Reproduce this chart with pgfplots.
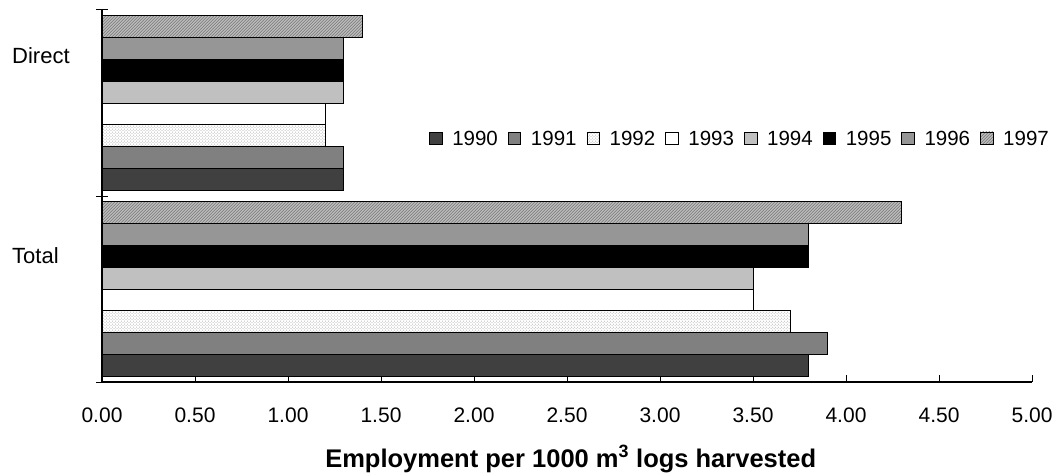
\documentclass[border=0pt]{standalone}
\usepackage{pgfplots}
\pgfplotsset{compat=1.18}
\usepackage{fontspec}
\setmainfont{Liberation Sans}
\usetikzlibrary{patterns}
\definecolor{c90}{RGB}{64,64,64}
\definecolor{c91}{RGB}{128,128,128}
\definecolor{c94}{RGB}{192,192,192}
\definecolor{c96}{RGB}{150,150,150}
\definecolor{c97}{RGB}{190,190,190}
\begin{document}
\begin{tikzpicture}
\begin{axis}[
  name=main,
  scale only axis, width=930pt, height=372pt,
  xmin=0, xmax=5, ymin=-0.5, ymax=1.5,
  axis x line=bottom, axis y line=left,
  x axis line style={-, line width=1.4pt, black},
  y axis line style={-, line width=1.4pt, black},
  xbar, bar width=0.1176,
  tick align=inside, major tick length=7pt,
  xtick={0,0.5,1,1.5,2,2.5,3,3.5,4,4.5,5},
  xtick style={black, line width=1pt},
  xticklabel style={/pgf/number format/.cd, fixed, fixed zerofill, precision=2, /tikz/.cd, anchor=base, yshift=-40pt},
  /pgf/number format/assume math mode=true,
  xticklabel style={font=\fontsize{21}{23}\selectfont},
  ytick={0.1398,1.2097},
  yticklabels={Total,Direct},
  ytick style={draw=none},
  yticklabel style={anchor=base west, inner sep=0pt, xshift=-90pt, font=\fontsize{22}{24}\selectfont},
  xlabel={\textbf{Employment per 1000 m\textsuperscript{3} logs harvested}},
  xlabel style={at={(rel axis cs:0.504,0)}, anchor=base, yshift=-85pt, font=\fontsize{25.5}{28}\selectfont},
  legend columns=8,
  legend style={at={(rel axis cs:0.3516,0.652)}, anchor=west, draw=none, fill=none, inner sep=0pt,
    font=\fontsize{20.5}{22}\selectfont, column sep=10pt, nodes={inner sep=0pt}},
  legend cell align=left,
  legend image code/.code={\draw[#1, line width=0.6pt] (0pt,-5pt) rectangle (12.5pt,7.5pt);},
  every axis plot/.append style={draw=black, line width=0.9pt},
]
\addplot[fill=c90, bar shift=-0.4116] coordinates {(3.8,0) (1.3,1)};
\addplot[fill=c91, bar shift=-0.2940] coordinates {(3.9,0) (1.3,1)};
\addplot[fill=white, postaction={pattern=crosshatch dots, pattern color=gray!70}, bar shift=-0.1764] coordinates {(3.7,0) (1.2,1)};
\addplot[fill=white, bar shift=-0.0588] coordinates {(3.5,0) (1.2,1)};
\addplot[fill=c94, bar shift=0.0588] coordinates {(3.5,0) (1.3,1)};
\addplot[fill=black, bar shift=0.1764] coordinates {(3.8,0) (1.3,1)};
\addplot[fill=c96, bar shift=0.2940] coordinates {(3.8,0) (1.3,1)};
\addplot[fill=c97, postaction={pattern=north east lines, pattern color=gray!90!black}, bar shift=0.4116] coordinates {(4.3,0) (1.4,1)};
\legend{1990,1991,1992,1993,1994,1995,1996,1997}
\end{axis}
\begin{axis}[
  scale only axis, width=930pt, height=372pt,
  xmin=0, xmax=5, ymin=-0.5, ymax=1.5,
  hide x axis,
  axis y line=left, y axis line style={-, line width=1.4pt, black},
  ytick={-0.5,0.5,1.5}, yticklabels={},
  tick align=center, major tick length=12pt,
  ytick style={black, line width=1pt},
]
\end{axis}
\path ([shift={(-102pt,-90pt)}]main.south west) rectangle ([shift={(28pt,10pt)}]main.north east);
\end{tikzpicture}
\end{document}
